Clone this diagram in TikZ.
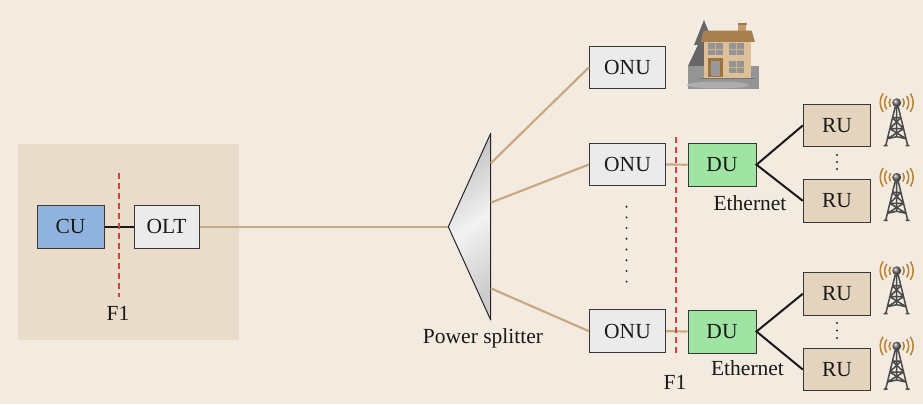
\documentclass[tikz,border=0pt]{standalone}
\usepackage{fontspec}
\setmainfont{Liberation Serif}
\usetikzlibrary{calc}

\definecolor{bgcol}{HTML}{F3EBE0}
\definecolor{cloudcol}{HTML}{EADCCA}
\definecolor{cucol}{HTML}{8FB2DE}
\definecolor{greycol}{HTML}{EBEBEB}
\definecolor{ducol}{HTML}{A0E4A4}
\definecolor{rucol}{HTML}{E5D4BD}
\definecolor{fibercol}{HTML}{C9A983}
\definecolor{edgecol}{HTML}{383838}
\definecolor{splitcol}{HTML}{E23A36}
\definecolor{wavecol}{HTML}{B8873F}
\definecolor{mastcol}{HTML}{4A4A4A}
\definecolor{wallcol}{HTML}{DDBF98}
\definecolor{chimcol}{HTML}{C49A6C}
\definecolor{capcol}{HTML}{A07848}
\definecolor{roofcol}{HTML}{A87F4E}
\definecolor{framecol}{HTML}{CDB08C}
\definecolor{doorcol}{HTML}{9C7442}

\tikzset{
  every node/.style={font=\fontsize{21.5}{24}\selectfont, text=black!90},
  unit/.style={draw=edgecol, line width=1pt, inner sep=0pt, minimum height=43pt},
  fiber/.style={draw=fibercol, line width=2.2pt},
  eth/.style={draw=black!90, line width=2pt},
  cut/.style={draw=splitcol, line width=1.4pt, dash pattern=on 6pt off 4pt},
  wave/.style={draw=wavecol, line width=1.6pt},
  tower/.pic={
    % radio waves on both sides
    \foreach \r in {7.5,12,16.5} {
      \draw[wave] (0,0) ++(146:\r) arc[start angle=146, end angle=214, radius=\r];
      \draw[wave] (0,0) ++(-34:\r) arc[start angle=-34, end angle=34, radius=\r];
    }
    % lattice mast
    \draw[mastcol, line width=1.5pt, line join=round]
      (-1.5,4) -- (-11,43) (1.5,4) -- (11,43)
      (-13,43) -- (-9,43) (9,43) -- (13,43)
      (0,4) -- (0,34)
      (-4.3,15) -- (4.3,15)
      (-4.3,15) -- (7,26) (4.3,15) -- (-7,26)
      (-7,26) -- (7,26)
      (-7,26) -- (9.4,36) (7,26) -- (-9.4,36)
      (-9.4,36) -- (0,34) -- (9.4,36);
    \shade[ball color=black!55] (0,0) circle (4.4);
  }
}

\begin{document}
\begin{tikzpicture}[x=1pt,y=-1pt]
\fill[bgcol] (0,0) rectangle (923,404);
\useasboundingbox (0,0) rectangle (923,404);

% central office area
\fill[cloudcol] (18,144) rectangle (239,340);

% central office units
\node[unit, fill=cucol, minimum width=67pt] (cu) at (70.5,226.8) {CU};
\node[unit, fill=greycol, minimum width=65pt] (olt) at (166.5,226.8) {OLT};
\draw[eth] (cu.east) -- (olt.west);
\coordinate (f1top) at (119,173);
\coordinate (f1bot) at (119,297);
\draw[cut] (f1top) -- (f1bot);
\node (f1left) at (118,313) {F1};

% power splitter
\coordinate (sin) at (448.3,226.8);
\coordinate (stop) at (490.7,133.3);
\coordinate (sbot) at (490.7,320);
\coordinate (p1) at (490.7,163.3);
\coordinate (p2) at (490.7,202.7);
\coordinate (p3) at (490.7,288.3);
\draw[fiber] (olt.east) -- (sin);
\shade[left color=black!24, right color=black!20, middle color=black!5, shading angle=35]
  (sin) -- (stop) -- (sbot) -- cycle;
\draw[black!85, line width=1pt, line join=round] (sin) -- (stop) -- (sbot) -- cycle;
\node (splabel) at (483,338) {Power splitter};

% optical network units
\node[unit, fill=greycol, minimum width=76pt, minimum height=42.5pt] (onu1) at (627.5,67.3) {ONU};
\node[unit, fill=greycol, minimum width=76pt, minimum height=42.5pt] (onu2) at (627.5,164.5) {ONU};
\node[unit, fill=greycol, minimum width=76pt, minimum height=42.5pt] (onu3) at (627.5,331.2) {ONU};
\draw[fiber] (p1) -- (onu1.west);
\draw[fiber] (p2) -- (onu2.west);
\draw[fiber] (p3) -- (onu3.west);
\foreach \i in {0,...,7}
  \fill[black!85] (626.5,206.7+\i*10.7) circle (1.1);

% home behind the first ONU
\begin{scope}
  \fill[black!60] (704,20) -- (714,45) -- (694,45) -- cycle;
  \fill[black!60] (704,32) -- (720,66) -- (688,66) -- cycle;
  \fill[black!42] (688,66) rectangle (759,89);
  \fill[black!32] (718,85) ellipse[x radius=31, y radius=3.5];
  \fill[black!55] (700,77.5) rectangle (755,79);
  \fill[wallcol] (704.3,41.7) rectangle (751,78);
  \fill[chimcol] (738.3,24) rectangle (745.7,31);
  \fill[capcol] (737.5,23.5) rectangle (746.5,25.5);
  \fill[roofcol] (700.7,42) -- (755,42) -- (751.7,30.7) -- (703.5,30.7) -- cycle;
  \foreach \wx/\wy in {707.7/43.5, 729/43.5, 729/61} {
    \fill[black!42] (\wx,\wy) rectangle ++(15,12);
    \draw[framecol, line width=0.8pt] (\wx+7.5,\wy) -- ++(0,12) (\wx,\wy+6) -- ++(15,0);
  }
  \fill[doorcol] (707.7,58.3) rectangle (722.7,77);
  \fill[black!40] (710.5,61) rectangle (719.9,75.5);
\end{scope}

% distributed units
\node[unit, fill=ducol, minimum width=68pt] (du1) at (722,164.7) {DU};
\node[unit, fill=ducol, minimum width=68pt] (du2) at (722,331.5) {DU};
\draw[fiber] (onu2.east) -- (du1.west);
\draw[fiber] (onu3.east) -- (du2.west);
\coordinate (f1rtop) at (676,137);
\coordinate (f1rbot) at (676,357);
\draw[cut] (f1rtop) -- (f1rbot);
\node (f1right) at (675,382) {F1};
\node (eth1) at (750,203) {Ethernet};
\node (eth2) at (747.5,368.5) {Ethernet};

% radio units
\node[unit, fill=rucol, minimum width=67.5pt, minimum height=42.5pt] (ru1) at (837,125.5) {RU};
\node[unit, fill=rucol, minimum width=67.5pt, minimum height=42.5pt] (ru2) at (837,200.8) {RU};
\node[unit, fill=rucol, minimum width=67.5pt, minimum height=42.5pt] (ru3) at (837,293.8) {RU};
\node[unit, fill=rucol, minimum width=67.5pt, minimum height=42.5pt] (ru4) at (837,369.5) {RU};
\draw[eth] (ru1.west) -- (du1.east) -- (ru2.west);
\draw[eth] (ru3.west) -- (du2.east) -- (ru4.west);
\foreach \yy in {155,162,169,323,330.5,338}
  \fill[black!85] (837,\yy) circle (1.2);

% antenna towers
\pic at (896.7,102.7) {tower};
\pic at (896.7,177.3) {tower};
\pic at (896.7,270.7) {tower};
\pic at (896.7,346) {tower};
\end{tikzpicture}
\end{document}
